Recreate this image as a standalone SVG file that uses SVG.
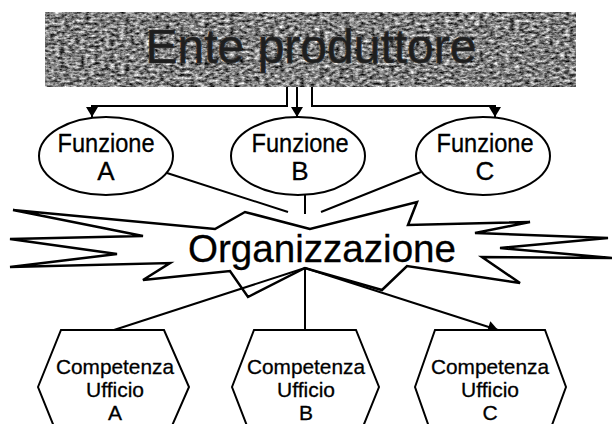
<svg xmlns="http://www.w3.org/2000/svg" width="612" height="424" viewBox="0 0 612 424">
<defs>
<style>
.ln{fill:none;stroke:#000;stroke-width:2}
.shape{fill:#fff;stroke:#000;stroke-width:2}
.t{font-family:"Liberation Sans",Arial,sans-serif;fill:#000;text-anchor:middle;stroke:#000;stroke-width:0.3}
.f24{font-size:26px}
.hx{font-size:21px}
</style>
<marker id="ah" viewBox="0 0 10 12" refX="10" refY="6" markerWidth="6" markerHeight="6" markerUnits="strokeWidth" orient="auto">
<path d="M0,0 L10,6 L0,12 z" fill="#000"/>
</marker>
<filter id="granite" x="0" y="0" width="100%" height="100%" color-interpolation-filters="sRGB">
<feTurbulence type="fractalNoise" baseFrequency="0.2 0.35" numOctaves="4" seed="11" result="n"/>
<feColorMatrix in="n" type="matrix" values="1 0 0 0 0  1 0 0 0 0  1 0 0 0 0  0 0 0 0 1" result="g"/>
<feComponentTransfer in="g" result="c">
<feFuncR type="linear" slope="1.4" intercept="-0.2"/>
<feFuncG type="linear" slope="1.4" intercept="-0.2"/>
<feFuncB type="linear" slope="1.4" intercept="-0.2"/>
</feComponentTransfer>
<feComposite in="c" in2="SourceGraphic" operator="in"/>
</filter>
</defs>

<g id="ente">
<rect x="45" y="12" width="531" height="75" fill="#7a7a7a" filter="url(#granite)"/>
<text x="311" y="63" style="font-family:'Liberation Sans',Arial,sans-serif;font-size:48px;fill:#1e1e1e;text-anchor:middle;stroke:#2a2a2a;stroke-width:0.6">Ente produttore</text>
</g>

<g id="connectors">
<polyline class="ln" points="287,87 287,106 92,106 92,117" marker-end="url(#ah)"/>
<polyline class="ln" points="297,87 297,117" marker-end="url(#ah)"/>
<polyline class="ln" points="312,87 312,106 495,106 495,117" marker-end="url(#ah)"/>
<line class="ln" x1="167" y1="173" x2="288" y2="212"/>
<line class="ln" x1="305" y1="195" x2="305" y2="214"/>
<line class="ln" x1="421" y1="172" x2="321" y2="212"/>
<line class="ln" x1="305" y1="268" x2="114" y2="330"/>
<line class="ln" x1="305" y1="268" x2="305" y2="330"/>
<line class="ln" x1="305" y1="268" x2="498" y2="330" marker-end="url(#ah)"/>
</g>

<g id="funzioneA">
<ellipse class="shape" cx="106" cy="156" rx="67" ry="39"/>
<text class="t f24" x="106" y="152" textLength="97" lengthAdjust="spacingAndGlyphs">Funzione</text>
<text class="t f24" x="106" y="180">A</text>
</g>
<g id="funzioneB">
<ellipse class="shape" cx="298" cy="156" rx="67" ry="39"/>
<text class="t f24" x="300" y="152" textLength="97" lengthAdjust="spacingAndGlyphs">Funzione</text>
<text class="t f24" x="300" y="180">B</text>
</g>
<g id="funzioneC">
<ellipse class="shape" cx="483" cy="156" rx="67" ry="39"/>
<text class="t f24" x="485" y="152" textLength="97" lengthAdjust="spacingAndGlyphs">Funzione</text>
<text class="t f24" x="485" y="180">C</text>
</g>

<g id="organizzazione">
<polygon fill="none" stroke="#000" stroke-width="2.5" stroke-linejoin="miter" points="310,229 245,212 215,229 13,210 143,236 10,239 117,254 10,267 170,263 143,280 230,271 248,297 305,268 382,290 407,266 520,283 482,257 612,258 500,248 608,238 475,233 530,222 408,225 417,202"/>
<text class="t" x="322" y="262" style="font-size:39px" textLength="268" lengthAdjust="spacingAndGlyphs">Organizzazione</text>
</g>

<g id="ufficioA">
<polygon class="shape" points="38,387 61,330 164,330 189,387 164,444 61,444"/>
<text class="t hx" x="115" y="374" textLength="118" lengthAdjust="spacingAndGlyphs">Competenza</text>
<text class="t hx" x="115" y="397" textLength="58" lengthAdjust="spacingAndGlyphs">Ufficio</text>
<text class="t hx" x="115" y="420">A</text>
</g>
<g id="ufficioB">
<polygon class="shape" points="232,387 254,330 356,330 379,387 356,444 254,444"/>
<text class="t hx" x="306" y="374" textLength="118" lengthAdjust="spacingAndGlyphs">Competenza</text>
<text class="t hx" x="306" y="397" textLength="58" lengthAdjust="spacingAndGlyphs">Ufficio</text>
<text class="t hx" x="306" y="420">B</text>
</g>
<g id="ufficioC">
<polygon class="shape" points="415,387 435,330 545,330 566,387 545,444 435,444"/>
<text class="t hx" x="490" y="374" textLength="118" lengthAdjust="spacingAndGlyphs">Competenza</text>
<text class="t hx" x="490" y="397" textLength="58" lengthAdjust="spacingAndGlyphs">Ufficio</text>
<text class="t hx" x="490" y="420">C</text>
</g>
</svg>
